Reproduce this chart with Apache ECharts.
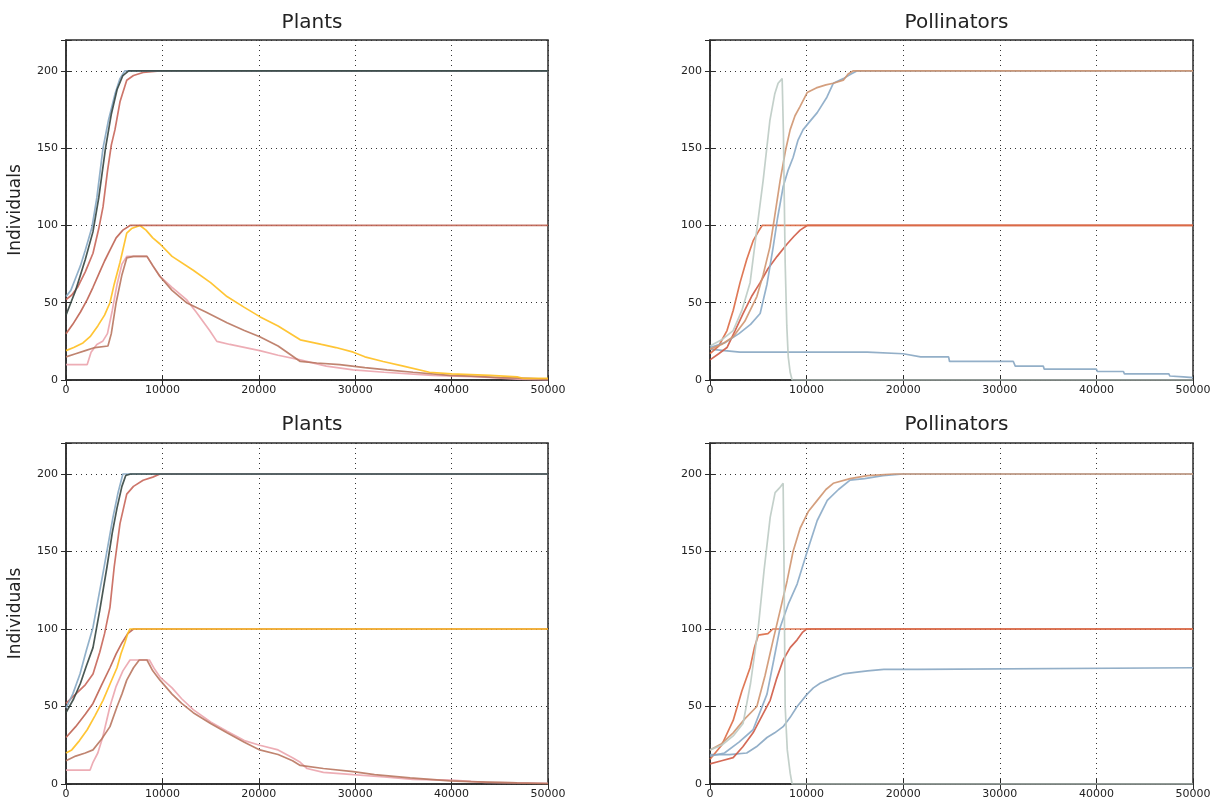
<!DOCTYPE html>
<html>
<head>
<meta charset="utf-8">
<title>Plants / Pollinators</title>
<script src="https://cdn.jsdelivr.net/npm/echarts@6/dist/echarts.min.js"></script>
<style>
	html, body { margin: 0; padding: 0; background: #fff; }
	#chart { width: 1219px; height: 800px; }
</style>
</head>
<body>
<div id="chart"></div>
<script>
// 坐标轴刻度
var xTicks = [0, 10000, 20000, 30000, 40000, 50000];
var yTicks = [0, 50, 100, 150, 200];
var panelTitles = ['Plants', 'Pollinators', 'Plants', 'Pollinators'];

// 上左 Plants
var p1Blue = [[0,54],[500,58],[1000,66],[1500,74],[2000,84],[2700,99],[3200,118],[3840,150],[4400,168],[5080,185],[5600,195],[6100,200],[50000,200]];
var p1Dark = [[0,42],[500,50],[1000,58],[1500,68],[2000,78],[2800,96],[3400,118],[4100,150],[4700,172],[5300,188],[5900,197],[6500,200],[50000,200]];
var p1Red200 = [[0,52],[600,55],[1200,60],[2000,70],[2800,82],[3400,98],[3840,112],[4300,135],[4700,152],[5080,162],[5600,180],[6300,194],[7000,197],[8000,199],[9750,200],[50000,200]];
var p1Red100 = [[0,30],[700,36],[1500,44],[2200,52],[2800,60],[3500,70],[4000,77],[4560,84],[5200,92],[5900,97],[6640,100],[50000,100]];
var p1Yellow = [[0,19],[800,21],[1760,24],[2500,28],[3300,35],[4000,42],[4560,50],[5000,62],[5600,76],[6300,95],[6800,98],[7670,100],[8300,97],[9000,92],[9750,88],[11000,80],[13200,71],[15000,63],[16700,54],[18500,47],[20100,41],[22000,35],[24300,26],[26500,23],[28000,21],[29800,18],[31000,15],[32900,12],[35000,9],[37700,5],[40000,4],[44000,3],[46800,2],[47500,1],[50000,1]];
var p1Brown = [[0,15],[1000,17],[2000,19],[3000,21],[4350,22],[4700,30],[5200,50],[5800,68],[6300,79],[7000,80],[8400,80],[9000,74],[9750,67],[11000,58],[12500,50],[14500,44],[16700,37],[18500,32],[20100,28],[22000,22],[24300,12],[26000,11],[28400,10],[31000,8],[33300,6.5],[36000,5],[39800,3],[42000,2.5],[45000,1.5],[48000,1],[50000,0.5]];
var p1Pink = [[0,10],[1000,10],[2200,10],[2600,18],[3200,23],[3800,25],[4300,30],[4800,45],[5300,62],[5800,75],[6300,80],[8400,80],[9000,74],[9750,67],[11000,60],[12500,52],[13500,44],[14900,32],[15650,25],[17000,23],[20100,19],[22000,16],[24300,13],[27000,9],[29800,6.5],[33000,5],[38000,3],[43000,2],[46800,0.5],[50000,0]];

// 上右 Pollinators
var q1Gray = [[0,22],[1200,26],[2400,32],[3300,45],[4150,63],[4800,95],[5500,129],[6200,168],[6700,185],[7050,192],[7470,195],[7600,160],[7780,76],[7950,35],[8100,15],[8300,5],[8500,0],[50000,0]];
var q1Tan = [[0,20],[1200,23],[2400,28],[3600,38],[4850,54],[5500,68],[6200,86],[6700,106],[7260,129],[7800,148],[8300,162],[8800,171],[9330,177],[10060,186],[11000,189],[12000,191],[12760,192],[13800,194],[14300,198],[14800,200],[50000,200]];
var q1Blue = [[0,21],[1500,24],[3000,30],[4200,36],[5190,43],[5900,62],[6540,86],[7000,105],[7570,125],[8100,136],[8600,144],[9100,155],[9640,162],[10300,167],[11100,173],[12100,183],[12760,192],[13800,195],[14600,198],[15200,200],[50000,200]];
var q1Orange = [[0,17],[900,22],[1760,32],[2400,45],[3110,63],[3800,78],[4460,90],[5000,96],[5400,100],[50000,100]];
var q1Red = [[0,13],[900,17],[1760,21],[2600,32],[3420,43],[4300,54],[5190,63],[6000,72],[6950,80],[7980,88],[8700,93],[9330,97],[10060,100],[50000,100]];
var q1BlueLow = [[0,20],[1500,19],[3100,18],[16300,18],[16400,17],[20000,17],[20100,16],[21800,15],[24700,15],[24800,12],[31400,12],[31600,9],[34500,9],[34600,7],[40000,7],[40100,5.5],[42800,5.5],[42900,4],[47500,4],[47600,2.6],[49000,2],[50000,1.5]];

// 下左 Plants
var p2Blue = [[0,49],[700,58],[1450,71],[2100,86],[2800,101],[3300,118],[3840,136],[4300,152],[4870,172],[5400,188],[5900,200],[50000,200]];
var p2Dark = [[0,46],[800,55],[1500,65],[2100,76],[2800,88],[3500,112],[4250,140],[4800,162],[5290,178],[5800,192],[6200,199],[6700,200],[50000,200]];
var p2Red200 = [[0,52],[1000,58],[2000,64],[2800,71],[3500,85],[4000,97],[4560,114],[5000,140],[5600,168],[6300,187],[7000,192],[8000,196],[9000,198],[9750,200],[50000,200]];
var p2Red100 = [[0,30],[1000,37],[2000,45],[2800,52],[3700,64],[4560,75],[5200,84],[5800,91],[6400,97],[7000,100],[50000,100]];
var p2Yellow = [[0,20],[600,22],[1400,28],[2200,35],[3000,44],[3840,54],[4600,65],[5290,75],[5700,84],[6100,91],[6400,97],[6640,100],[50000,100]];
var p2Brown = [[0,15],[1000,18],[2000,20],[2800,22],[3700,29],[4560,37],[5300,50],[5800,58],[6300,67],[7000,75],[7600,80],[8400,80],[9000,73],[9750,67],[11000,58],[12000,52],[13200,46],[15000,39],[16700,33],[18500,27],[20100,22],[22000,19],[23500,15],[24300,12],[26700,10],[29800,8],[32000,6],[35700,4],[39800,2],[42000,1.5],[46800,0.7],[50000,0.3]];
var p2Pink = [[0,9],[1000,9],[2500,9],[2800,14],[3300,20],[3800,30],[4560,50],[5200,63],[5900,73],[6640,80],[8650,80],[9200,74],[9750,69],[11000,62],[12000,55],[13200,48],[15000,40],[16700,34],[18500,28],[20100,25],[22000,22],[23500,17],[24300,14],[25000,10],[26700,7.5],[29800,6],[33000,4.5],[36000,3],[40000,2.5],[43500,1],[50000,0.5]];

// 下右 Pollinators
var q2Gray = [[0,22],[1200,25],[2400,31],[3420,39],[4200,65],[5000,101],[5600,138],[6230,172],[6740,188],[7200,191],[7570,194],[7650,150],[7780,50],[8000,22],[8300,7],[8500,0],[50000,0]];
var q2Tan = [[0,22],[1200,26],[2400,33],[3600,42],[4850,50],[5700,70],[6540,93],[7300,113],[7980,131],[8600,150],[9330,165],[10200,176],[11100,183],[12000,190],[12760,194],[14500,197],[16300,199],[19000,200],[50000,200]];
var q2Blue = [[0,18],[1500,20],[3000,27],[4460,35],[5900,58],[6600,80],[7260,101],[8100,116],[9020,129],[10060,150],[11100,170],[12140,183],[13300,190],[14500,196],[16000,197],[17900,199],[20000,200],[50000,200]];
var q2Orange = [[0,16],[1200,25],[2400,41],[3300,60],[4150,75],[4600,88],[5000,96],[6000,97],[6500,100],[50000,100]];
var q2Red = [[0,13],[1200,15],[2400,17],[3400,24],[4460,33],[5300,43],[6230,54],[6900,68],[7570,80],[8300,88],[9020,93],[9600,98],[10000,100],[50000,100]];
var q2BlueLow = [[0,19],[2000,19],[3800,20],[4800,24],[5900,30],[6700,33],[7570,37],[8300,43],[9020,50],[10060,58],[10700,62],[11400,65],[12500,68],[13800,71],[15000,72],[16300,73],[18000,74],[21500,74],[21600,75],[50000,75]];

// 四个面板的位置
var grids = [
	{left: 66, top: 40, width: 482, height: 340},
	{left: 710, top: 40, width: 483, height: 340},
	{left: 66, top: 443, width: 482, height: 341},
	{left: 710, top: 443, width: 483, height: 341}
];

var font = 'DejaVu Sans';
var xAxes = [], yAxes = [], titles = [], series = [];

for (var i = 0; i < 4; i++) {
	var g = grids[i];
	g.show = true;
	g.borderColor = '#2b2b2b';
	g.borderWidth = 1.5;
	g.backgroundColor = '#fff';

	titles.push({
		text: panelTitles[i],
		left: g.left + g.width / 2,
		top: i < 2 ? 8 : 410,
		textAlign: 'center',
		textStyle: {fontFamily: font, fontSize: 20, fontWeight: 'normal', color: '#222'}
	});

	// 底部x轴
	xAxes.push({
		gridIndex: i, type: 'value', min: 0, max: 50000, interval: 10000,
		axisLine: {show: true, lineStyle: {color: '#2b2b2b', width: 1.5}},
		axisTick: {show: true, inside: true, length: 5, lineStyle: {color: '#2b2b2b'}},
		axisLabel: {fontFamily: font, fontSize: 11, color: '#222', margin: 5,
			formatter: function (v) { return xTicks.indexOf(v) >= 0 ? v + '' : ''; }},
		splitLine: {show: true, lineStyle: {type: [1, 4], color: '#333', width: 1}}
	});
	// 顶部刻度
	xAxes.push({
		gridIndex: i, type: 'value', position: 'top', min: 0, max: 50000, interval: 10000,
		axisLine: {show: false}, axisLabel: {show: false}, splitLine: {show: false},
		axisTick: {show: true, inside: true, length: 5, lineStyle: {color: '#2b2b2b'}}
	});

	yAxes.push({
		gridIndex: i, type: 'value', min: 0, max: 220, interval: 50,
		name: i % 2 === 0 ? 'Individuals' : '',
		nameLocation: 'middle', nameGap: 42,
		nameTextStyle: {fontFamily: font, fontSize: 17, color: '#222'},
		axisLine: {show: true, lineStyle: {color: '#2b2b2b', width: 1.5}},
		axisTick: {show: true, inside: true, length: 5, lineStyle: {color: '#2b2b2b'}},
		axisLabel: {fontFamily: font, fontSize: 11, color: '#222', margin: 8,
			formatter: function (v) { return yTicks.indexOf(v) >= 0 ? v + '' : ''; }},
		splitLine: {show: true, lineStyle: {type: [1, 4], color: '#333', width: 1}}
	});
	// 右侧刻度
	yAxes.push({
		gridIndex: i, type: 'value', position: 'right', min: 0, max: 220, interval: 50,
		axisLine: {show: false}, axisLabel: {show: false}, splitLine: {show: false},
		axisTick: {show: true, inside: true, length: 5, lineStyle: {color: '#2b2b2b'}}
	});
}

// 折线
function addLine(panel, data, color) {
	series.push({
		type: 'line',
		xAxisIndex: panel * 2,
		yAxisIndex: panel * 2,
		data: data,
		symbol: 'none',
		animation: false,
		lineStyle: {color: color, width: 1.7, opacity: 0.9}
	});
}

addLine(0, p1Pink, '#eba4ad');
addLine(0, p1Brown, '#b97760');
addLine(0, p1Yellow, '#ffbf1f');
addLine(0, p1Red100, '#bf6352');
addLine(0, p1Red200, '#c8665a');
addLine(0, p1Blue, '#86a8c4');
addLine(0, p1Dark, '#364641');

addLine(1, q1BlueLow, '#87a6c2');
addLine(1, q1Red, '#cf5a45');
addLine(1, q1Orange, '#dc6a45');
addLine(1, q1Blue, '#8aaac6');
addLine(1, q1Tan, '#cf9570');
addLine(1, q1Gray, '#bccbc4');

addLine(2, p2Pink, '#eba4ad');
addLine(2, p2Brown, '#b97760');
addLine(2, p2Red100, '#bf6352');
addLine(2, p2Yellow, '#ffbf1f');
addLine(2, p2Red200, '#c8665a');
addLine(2, p2Blue, '#86a8c4');
addLine(2, p2Dark, '#364641');

addLine(3, q2BlueLow, '#87a6c2');
addLine(3, q2Red, '#cf5a45');
addLine(3, q2Orange, '#dc6a45');
addLine(3, q2Blue, '#8aaac6');
addLine(3, q2Tan, '#cf9570');
addLine(3, q2Gray, '#bccbc4');

var option = {
	backgroundColor: '#fff',
	animation: false,
	title: titles,
	grid: grids,
	xAxis: xAxes,
	yAxis: yAxes,
	series: series
};

var chart = echarts.init(document.getElementById('chart'));
chart.setOption(option);
</script>
</body>
</html>
